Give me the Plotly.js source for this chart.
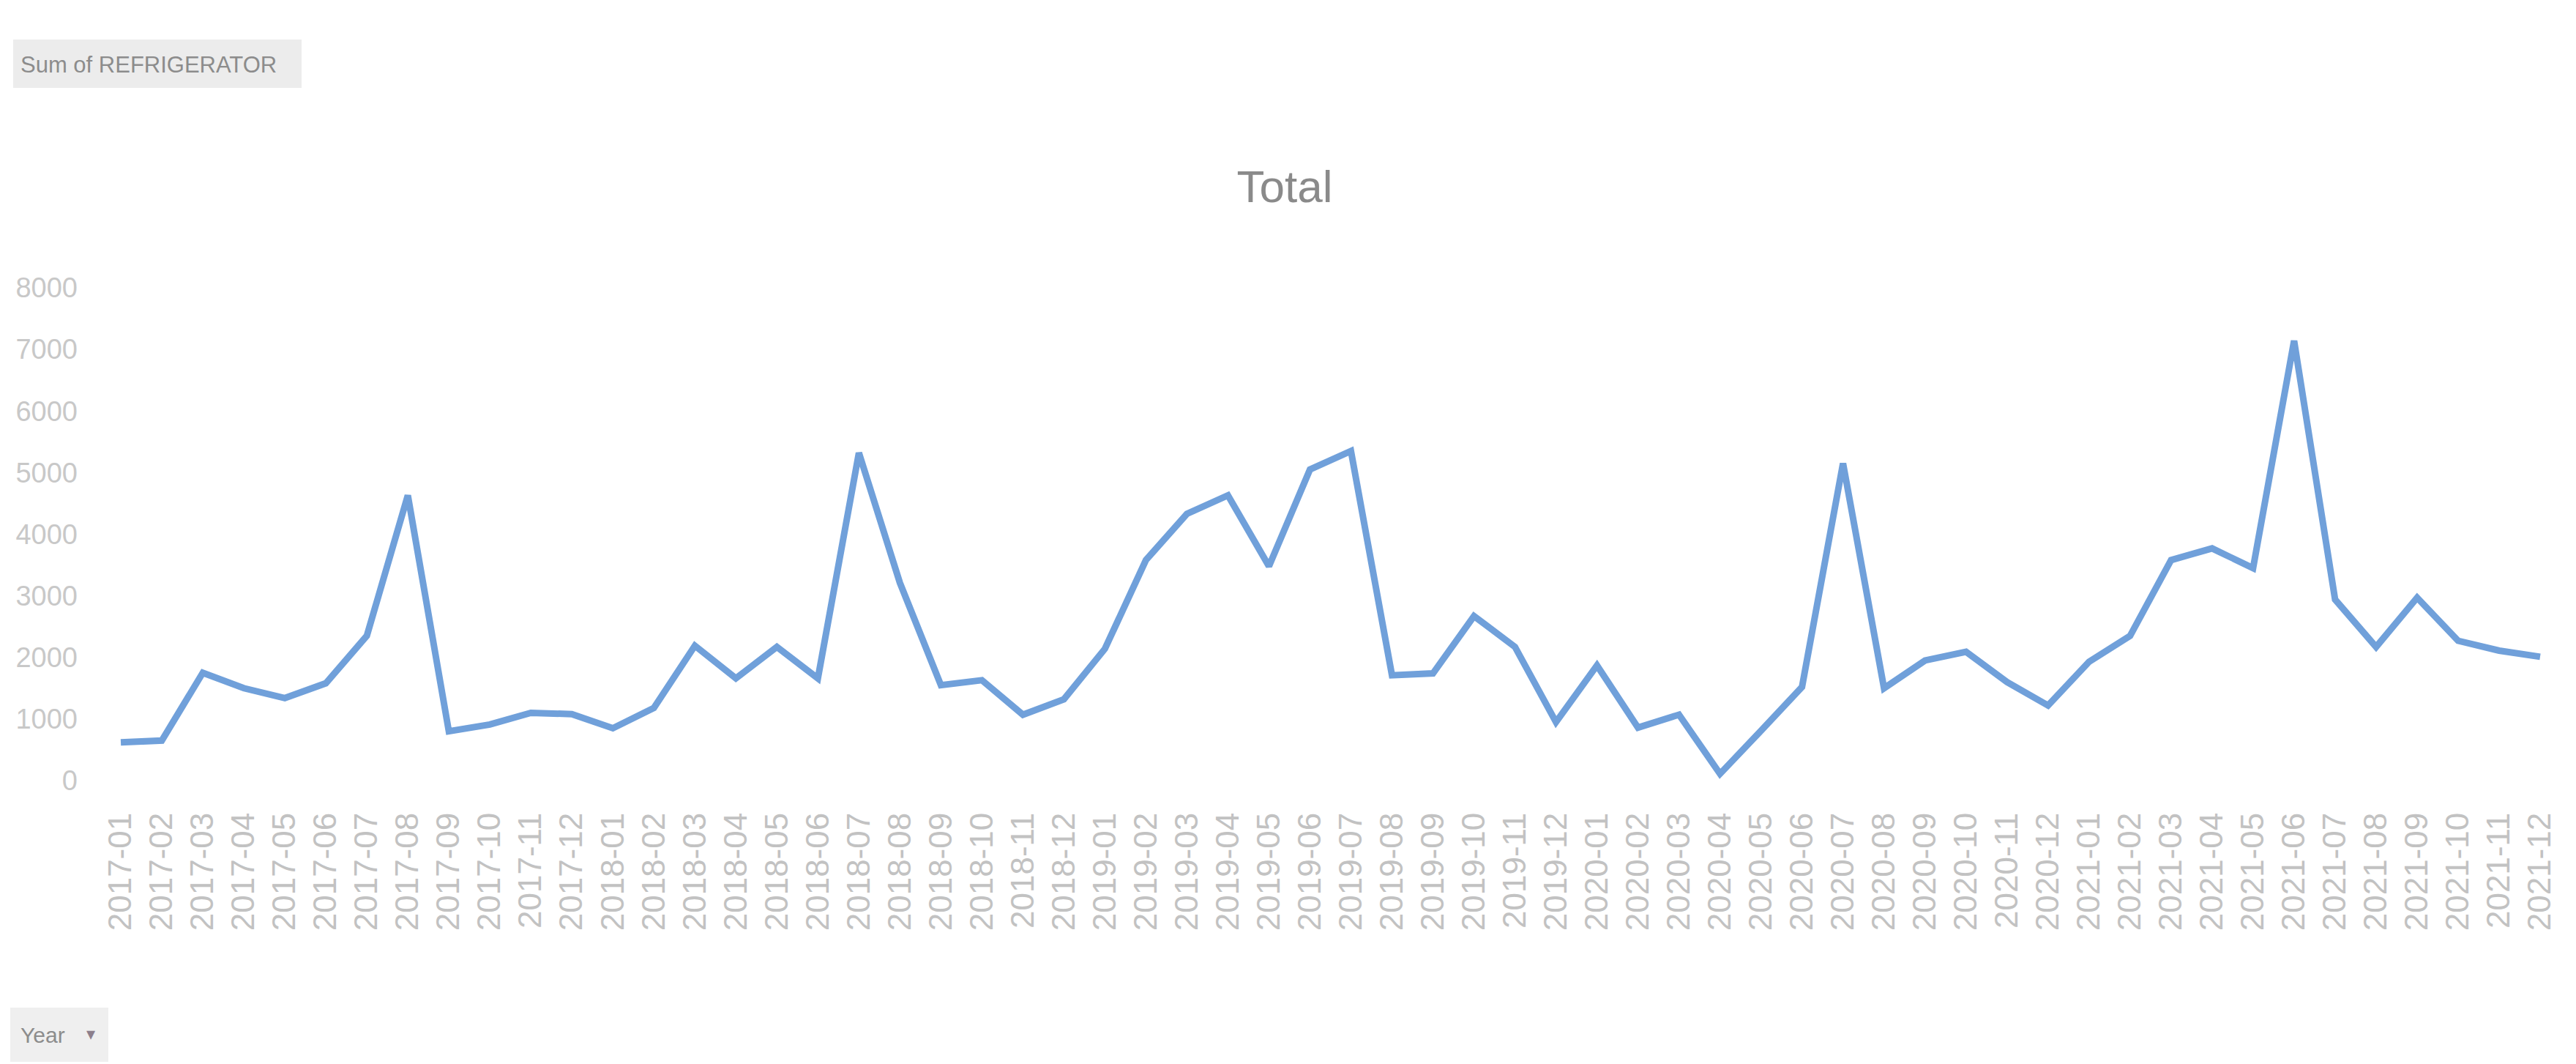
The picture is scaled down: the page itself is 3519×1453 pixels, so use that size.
<!DOCTYPE html>
<html>
<head>
<meta charset="utf-8">
<script src="https://cdn.plot.ly/plotly-3.0.1.min.js"></script>
<style>
  html, body { margin: 0; padding: 0; background: #ffffff; }
  #chart { width: 3519px; height: 1453px; }
</style>
</head>
<body>
<div id="chart"></div>
<script>
// ---- data ----
const months = [
  "2017-01","2017-02","2017-03","2017-04","2017-05","2017-06","2017-07","2017-08","2017-09","2017-10","2017-11","2017-12",
  "2018-01","2018-02","2018-03","2018-04","2018-05","2018-06","2018-07","2018-08","2018-09","2018-10","2018-11","2018-12",
  "2019-01","2019-02","2019-03","2019-04","2019-05","2019-06","2019-07","2019-08","2019-09","2019-10","2019-11","2019-12",
  "2020-01","2020-02","2020-03","2020-04","2020-05","2020-06","2020-07","2020-08","2020-09","2020-10","2020-11","2020-12",
  "2021-01","2021-02","2021-03","2021-04","2021-05","2021-06","2021-07","2021-08","2021-09","2021-10","2021-11","2021-12"
];
const totals = [
  620, 650, 1750, 1500, 1340, 1580, 2350, 4630, 800, 910, 1100, 1080,
  850, 1180, 2190, 1660, 2170, 1660, 5320, 3210, 1550, 1630, 1070, 1320,
  2140, 3580, 4330, 4630, 3480, 5050, 5350, 1710, 1740, 2670, 2170, 950,
  1870, 860, 1070, 110, 810, 1520, 5150, 1500, 1950, 2090, 1600, 1220,
  1930, 2350, 3580, 3770, 3450, 7140, 2940, 2170, 2970, 2270, 2110, 2010
];
const seriesName = "Total";
const fieldButton = "Sum of REFRIGERATOR";
const axisButton = "Year";
const yTicks = [0, 1000, 2000, 3000, 4000, 5000, 6000, 7000, 8000];

// ---- layout geometry (pixels) ----
const W = 3519, H = 1453;
const M = {l: 137, r: 21, t: 393, b: 387};
const PW = W - M.l - M.r, PH = H - M.t - M.b;
const px = x => (x - M.l) / PW;
const py = y => 1 - (y - M.t) / PH;

const sans = "Liberation Sans, Arial, sans-serif";

const trace = {
  type: "scatter",
  mode: "lines",
  name: seriesName,
  x: months.map((m, i) => i),
  y: totals,
  line: {color: "#70a0da", width: 9},
  hoverinfo: "x+y"
};

const layout = {
  width: W, height: H,
  margin: M,
  paper_bgcolor: "#ffffff",
  plot_bgcolor: "#ffffff",
  showlegend: false,
  title: {
    text: seriesName,
    font: {family: sans, size: 62, color: "#8a8a8a"},
    xref: "paper", x: px(1755), xanchor: "center",
    yref: "container", y: 1 - 254 / H, yanchor: "middle"
  },
  xaxis: {
    range: [-0.5, months.length - 0.5],
    tickmode: "array",
    tickvals: months.map((m, i) => i),
    ticktext: months,
    tickangle: -90,
    tickfont: {family: sans, size: 44, color: "#c2c2c2"},
    showgrid: false, zeroline: false, showline: false,
    ticks: "", ticklabelstandoff: 34
  },
  yaxis: {
    range: [0, 8000],
    tickmode: "array",
    tickvals: yTicks,
    ticktext: yTicks.map(String),
    tickfont: {family: sans, size: 38, color: "#c8c8c8"},
    showgrid: false, zeroline: false, showline: false,
    ticks: "", ticklabelstandoff: 30
  },
  shapes: [
    {type: "rect", xref: "paper", yref: "paper",
     x0: px(18), x1: px(412), y0: py(120), y1: py(54),
     fillcolor: "#ececec", line: {width: 0}, layer: "below"},
    {type: "rect", xref: "paper", yref: "paper",
     x0: px(14), x1: px(148), y0: py(1450), y1: py(1376),
     fillcolor: "#efefef", line: {width: 0}, layer: "below"}
  ],
  annotations: [
    {text: fieldButton, xref: "paper", yref: "paper",
     x: px(26), y: py(88), xanchor: "left", yanchor: "middle",
     showarrow: false, font: {family: sans, size: 31, color: "#8c8c8c"}},
    {text: axisButton, xref: "paper", yref: "paper",
     x: px(26), y: py(1413), xanchor: "left", yanchor: "middle",
     showarrow: false, font: {family: sans, size: 30, color: "#8c8c8c"}},
    {text: "▾", xref: "paper", yref: "paper",
     x: px(124), y: py(1411), xanchor: "center", yanchor: "middle",
     showarrow: false, font: {family: sans, size: 24, color: "#8c7f8c"}}
  ]
};

Plotly.newPlot("chart", [trace], layout, {displayModeBar: false, staticPlot: true});
</script>
</body>
</html>
